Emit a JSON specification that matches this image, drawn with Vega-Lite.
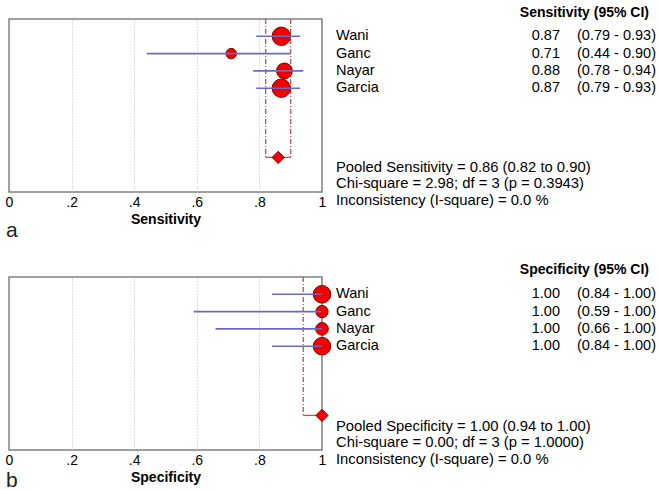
{
  "$schema": "https://vega.github.io/schema/vega-lite/v6.json",
  "padding": {"left": 4, "top": 5, "right": 2, "bottom": 2},
  "bounds": "flush",
  "columns": 2,
  "spacing": {"row": 85, "column": 14},
  "config": {
    "font": "Liberation Sans",
    "text": {"font": "Liberation Sans", "fontSize": 14.5, "color": "#000000"},
    "axis": {"labelFont": "Liberation Sans", "titleFont": "Liberation Sans"}
  },
  "datasets": {
    "sens": [
      {"study": "Wani", "row": 1, "est": 0.87, "lo": 0.79, "hi": 0.93, "weight": 34},
      {"study": "Ganc", "row": 2, "est": 0.71, "lo": 0.44, "hi": 0.90, "weight": 11},
      {"study": "Nayar", "row": 3, "est": 0.88, "lo": 0.78, "hi": 0.94, "weight": 25},
      {"study": "Garcia", "row": 4, "est": 0.87, "lo": 0.79, "hi": 0.93, "weight": 34}
    ],
    "sensPooled": [
      {"measure": "Sensitivity", "est": 0.86, "lo": 0.82, "hi": 0.90, "chi": 2.98, "df": 3, "p": 0.3943, "isq": 0.0}
    ],
    "spec": [
      {"study": "Wani", "row": 1, "est": 1.00, "lo": 0.84, "hi": 1.00, "weight": 31},
      {"study": "Ganc", "row": 2, "est": 1.00, "lo": 0.59, "hi": 1.00, "weight": 15},
      {"study": "Nayar", "row": 3, "est": 1.00, "lo": 0.66, "hi": 1.00, "weight": 16},
      {"study": "Garcia", "row": 4, "est": 1.00, "lo": 0.84, "hi": 1.00, "weight": 31}
    ],
    "specPooled": [
      {"measure": "Specificity", "est": 1.00, "lo": 0.94, "hi": 1.00, "chi": 0.00, "df": 3, "p": 1.0, "isq": 0.0}
    ]
  },
  "concat": [
    {
      "width": 313, "height": 173,
      "view": {"stroke": "#808080", "strokeWidth": 1.5},
      "title": {"text": "a", "orient": "bottom", "anchor": "start", "fontSize": 21, "fontWeight": "normal", "font": "Liberation Sans", "offset": -6, "dx": 1, "color": "#222222"},
      "layer": [
        {
          "data": {"name": "sensPooled"},
          "mark": {"type": "rule", "color": "#c0504d", "strokeWidth": 1.3, "strokeDash": [5, 2, 1, 2]},
          "encoding": {
            "x": {"field": "lo", "type": "quantitative", "title": "Sensitivity",
              "scale": {"domain": [0, 1], "nice": false, "zero": false},
              "axis": {"values": [0, 0.1, 0.2, 0.3, 0.4, 0.5, 0.6, 0.7, 0.8, 0.9, 1],
                "labelExpr": "round(datum.value*10) % 2 == 0 ? (datum.value == 0 ? '0' : (datum.value == 1 ? '1' : replace(format(datum.value, '.1f'), '0.', '.'))) : ''",
                "labelFlush": false, "labelOverlap": false, "labelFontSize": 14, "labelColor": "#000000", "labelPadding": 3,
                "ticks": false, "domain": false,
                "grid": true, "gridColor": "#bdbdbd", "gridDash": [1, 2], "gridWidth": 1,
                "gridOpacity": {"condition": {"test": "datum.value == 0 || datum.value == 1", "value": 0}, "value": 1},
                "titleFontSize": 14, "titleFontWeight": "bold", "titleColor": "#000000", "titlePadding": 3}},
            "y": {"datum": 0, "type": "quantitative", "scale": {"domain": [0, 10], "reverse": true, "nice": false, "zero": false}, "axis": null},
            "y2": {"datum": 8}
          }
        },
        {
          "data": {"name": "sensPooled"},
          "mark": {"type": "rule", "color": "#c0504d", "strokeWidth": 1.3, "strokeDash": [5, 2, 1, 2]},
          "encoding": {
            "x": {"field": "hi", "type": "quantitative", "title": "Sensitivity"},
            "y": {"datum": 0, "type": "quantitative", "axis": null},
            "y2": {"datum": 8}
          }
        },
        {
          "data": {"name": "sensPooled"},
          "mark": {"type": "rule", "color": "#c0504d", "strokeWidth": 1.3},
          "encoding": {
            "x": {"field": "lo", "type": "quantitative", "title": "Sensitivity"},
            "x2": {"field": "hi"},
            "y": {"datum": 8, "type": "quantitative", "axis": null}
          }
        },
        {
          "data": {"name": "sens"},
          "mark": {"type": "point", "shape": "circle", "filled": true, "fill": "#f20000", "stroke": "#8b0000", "strokeWidth": 1, "opacity": 1},
          "encoding": {
            "x": {"field": "est", "type": "quantitative", "title": "Sensitivity"},
            "y": {"field": "row", "type": "quantitative", "axis": null},
            "size": {"field": "weight", "type": "quantitative", "scale": {"domain": [0, 100], "range": [0, 1000]}, "legend": null}
          }
        },
        {
          "data": {"name": "sens"},
          "mark": {"type": "rule", "color": "#6a6ac4", "strokeWidth": 1.6},
          "encoding": {
            "x": {"field": "lo", "type": "quantitative", "title": "Sensitivity"},
            "x2": {"field": "hi"},
            "y": {"field": "row", "type": "quantitative", "axis": null}
          }
        },
        {
          "data": {"name": "sensPooled"},
          "mark": {"type": "point", "shape": "diamond", "filled": true, "fill": "#f20000", "stroke": "#8b0000", "strokeWidth": 1, "size": 150, "opacity": 1},
          "encoding": {
            "x": {"field": "est", "type": "quantitative", "title": "Sensitivity"},
            "y": {"datum": 8, "type": "quantitative", "axis": null}
          }
        }
      ]
    },
    {
      "width": 320, "height": 173,
      "view": {"stroke": null},
      "layer": [
        {
          "data": {"name": "sensPooled"},
          "mark": {"type": "text", "align": "right", "baseline": "middle", "fontWeight": "bold", "fontSize": 14},
          "encoding": {
            "text": {"value": "Sensitivity (95% CI)"},
            "x": {"datum": 0.978, "type": "quantitative", "scale": {"domain": [0, 1], "nice": false, "zero": false}, "axis": null},
            "y": {"datum": -0.35, "type": "quantitative", "scale": {"domain": [0, 10], "reverse": true, "nice": false, "zero": false}, "axis": null}
          }
        },
        {
          "data": {"name": "sens"},
          "mark": {"type": "text", "align": "left", "baseline": "middle"},
          "encoding": {
            "text": {"field": "study", "type": "nominal"},
            "x": {"datum": 0, "type": "quantitative", "axis": null},
            "y": {"field": "row", "type": "quantitative", "axis": null}
          }
        },
        {
          "data": {"name": "sens"},
          "mark": {"type": "text", "align": "right", "baseline": "middle"},
          "encoding": {
            "text": {"field": "est", "type": "quantitative", "format": ".2f"},
            "x": {"datum": 0.70, "type": "quantitative", "axis": null},
            "y": {"field": "row", "type": "quantitative", "axis": null}
          }
        },
        {
          "data": {"name": "sens"},
          "transform": [{"calculate": "'(' + format(datum.lo, '.2f') + ' - ' + format(datum.hi, '.2f') + ')'", "as": "ci"}],
          "mark": {"type": "text", "align": "right", "baseline": "middle"},
          "encoding": {
            "text": {"field": "ci", "type": "nominal"},
            "x": {"datum": 1.0, "type": "quantitative", "axis": null},
            "y": {"field": "row", "type": "quantitative", "axis": null}
          }
        },
        {
          "data": {"name": "sensPooled"},
          "transform": [{"calculate": "['Pooled ' + datum.measure + ' = ' + format(datum.est, '.2f') + ' (' + format(datum.lo, '.2f') + ' to ' + format(datum.hi, '.2f') + ')', 'Chi-square = ' + format(datum.chi, '.2f') + '; df =  ' + datum.df + ' (p = ' + format(datum.p, '.4f') + ')', 'Inconsistency (I-square) = ' + format(datum.isq, '.1f') + ' %']", "as": "lines"}],
          "mark": {"type": "text", "align": "left", "baseline": "middle", "lineHeight": 16.6, "fontSize": 14.8},
          "encoding": {
            "text": {"field": "lines", "type": "nominal"},
            "x": {"datum": 0, "type": "quantitative", "axis": null},
            "y": {"datum": 8.6, "type": "quantitative", "axis": null}
          }
        }
      ]
    },
    {
      "width": 313, "height": 173,
      "view": {"stroke": "#808080", "strokeWidth": 1.5},
      "title": {"text": "b", "orient": "bottom", "anchor": "start", "fontSize": 21, "fontWeight": "normal", "font": "Liberation Sans", "offset": -14, "dx": 1, "color": "#222222"},
      "layer": [
        {
          "data": {"name": "specPooled"},
          "mark": {"type": "rule", "color": "#c0504d", "strokeWidth": 1.3, "strokeDash": [5, 2, 1, 2]},
          "encoding": {
            "x": {"field": "lo", "type": "quantitative", "title": "Specificity",
              "scale": {"domain": [0, 1], "nice": false, "zero": false},
              "axis": {"values": [0, 0.1, 0.2, 0.3, 0.4, 0.5, 0.6, 0.7, 0.8, 0.9, 1],
                "labelExpr": "round(datum.value*10) % 2 == 0 ? (datum.value == 0 ? '0' : (datum.value == 1 ? '1' : replace(format(datum.value, '.1f'), '0.', '.'))) : ''",
                "labelFlush": false, "labelOverlap": false, "labelFontSize": 14, "labelColor": "#000000", "labelPadding": 3,
                "ticks": false, "domain": false,
                "grid": true, "gridColor": "#bdbdbd", "gridDash": [1, 2], "gridWidth": 1,
                "gridOpacity": {"condition": {"test": "datum.value == 0 || datum.value == 1", "value": 0}, "value": 1},
                "titleFontSize": 14, "titleFontWeight": "bold", "titleColor": "#000000", "titlePadding": 3}},
            "y": {"datum": 0, "type": "quantitative", "scale": {"domain": [0, 10], "reverse": true, "nice": false, "zero": false}, "axis": null},
            "y2": {"datum": 8}
          }
        },
        {
          "data": {"name": "specPooled"},
          "mark": {"type": "rule", "color": "#c0504d", "strokeWidth": 1.3},
          "encoding": {
            "x": {"field": "lo", "type": "quantitative", "title": "Specificity"},
            "x2": {"field": "hi"},
            "y": {"datum": 8, "type": "quantitative", "axis": null}
          }
        },
        {
          "data": {"name": "spec"},
          "mark": {"type": "point", "shape": "circle", "filled": true, "fill": "#f20000", "stroke": "#8b0000", "strokeWidth": 1, "opacity": 1},
          "encoding": {
            "x": {"field": "est", "type": "quantitative", "title": "Specificity"},
            "y": {"field": "row", "type": "quantitative", "axis": null},
            "size": {"field": "weight", "type": "quantitative", "scale": {"domain": [0, 100], "range": [0, 1000]}, "legend": null}
          }
        },
        {
          "data": {"name": "spec"},
          "mark": {"type": "rule", "color": "#6a6ac4", "strokeWidth": 1.6},
          "encoding": {
            "x": {"field": "lo", "type": "quantitative", "title": "Specificity"},
            "x2": {"field": "hi"},
            "y": {"field": "row", "type": "quantitative", "axis": null}
          }
        },
        {
          "data": {"name": "specPooled"},
          "mark": {"type": "point", "shape": "diamond", "filled": true, "fill": "#f20000", "stroke": "#8b0000", "strokeWidth": 1, "size": 150, "opacity": 1},
          "encoding": {
            "x": {"field": "est", "type": "quantitative", "title": "Specificity"},
            "y": {"datum": 8, "type": "quantitative", "axis": null}
          }
        }
      ]
    },
    {
      "width": 320, "height": 173,
      "view": {"stroke": null},
      "layer": [
        {
          "data": {"name": "specPooled"},
          "mark": {"type": "text", "align": "right", "baseline": "middle", "fontWeight": "bold", "fontSize": 14},
          "encoding": {
            "text": {"value": "Specificity (95% CI)"},
            "x": {"datum": 0.978, "type": "quantitative", "scale": {"domain": [0, 1], "nice": false, "zero": false}, "axis": null},
            "y": {"datum": -0.4, "type": "quantitative", "scale": {"domain": [0, 10], "reverse": true, "nice": false, "zero": false}, "axis": null}
          }
        },
        {
          "data": {"name": "spec"},
          "mark": {"type": "text", "align": "left", "baseline": "middle"},
          "encoding": {
            "text": {"field": "study", "type": "nominal"},
            "x": {"datum": 0, "type": "quantitative", "axis": null},
            "y": {"field": "row", "type": "quantitative", "axis": null}
          }
        },
        {
          "data": {"name": "spec"},
          "mark": {"type": "text", "align": "right", "baseline": "middle"},
          "encoding": {
            "text": {"field": "est", "type": "quantitative", "format": ".2f"},
            "x": {"datum": 0.70, "type": "quantitative", "axis": null},
            "y": {"field": "row", "type": "quantitative", "axis": null}
          }
        },
        {
          "data": {"name": "spec"},
          "transform": [{"calculate": "'(' + format(datum.lo, '.2f') + ' - ' + format(datum.hi, '.2f') + ')'", "as": "ci"}],
          "mark": {"type": "text", "align": "right", "baseline": "middle"},
          "encoding": {
            "text": {"field": "ci", "type": "nominal"},
            "x": {"datum": 1.0, "type": "quantitative", "axis": null},
            "y": {"field": "row", "type": "quantitative", "axis": null}
          }
        },
        {
          "data": {"name": "specPooled"},
          "transform": [{"calculate": "['Pooled ' + datum.measure + ' = ' + format(datum.est, '.2f') + ' (' + format(datum.lo, '.2f') + ' to ' + format(datum.hi, '.2f') + ')', 'Chi-square = ' + format(datum.chi, '.2f') + '; df =  ' + datum.df + ' (p = ' + format(datum.p, '.4f') + ')', 'Inconsistency (I-square) = ' + format(datum.isq, '.1f') + ' %']", "as": "lines"}],
          "mark": {"type": "text", "align": "left", "baseline": "middle", "lineHeight": 16.6, "fontSize": 14.8},
          "encoding": {
            "text": {"field": "lines", "type": "nominal"},
            "x": {"datum": 0, "type": "quantitative", "axis": null},
            "y": {"datum": 8.65, "type": "quantitative", "axis": null}
          }
        }
      ]
    }
  ]
}
